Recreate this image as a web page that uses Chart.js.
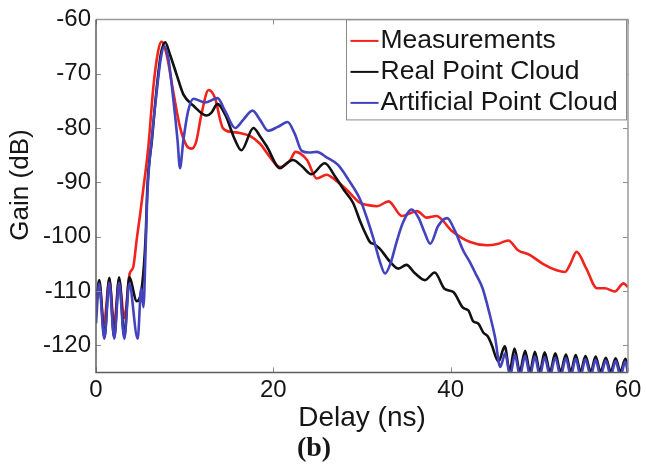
<!DOCTYPE html>
<html>
<head>
<meta charset="utf-8">
<title>Delay profile</title>
<script src="https://cdn.jsdelivr.net/npm/chart.js@4.4.1/dist/chart.umd.min.js"></script>
<style>
  html, body { margin: 0; padding: 0; background: #fff; }
  #wrap { width: 646px; height: 473px; }
</style>
</head>
<body>
<div id="wrap"><canvas id="chart" width="646" height="473"></canvas></div>
<script>
// ---- data: delay (ns) / gain (dB) ----

const measDelay = [0, 0.35, 0.9, 1.5, 2.05, 2.6, 3.2, 3.8, 4.2, 4.6, 4.96, 5.33, 5.9, 6.46, 7.0, 7.4, 7.97, 8.7, 9.47,
  10.2, 10.8, 11.3, 11.9, 12.7, 13.4, 14.3, 15.2, 16.2, 17.4, 18.5, 19.6, 20.75, 21.9, 22.5, 23.8, 24.9, 26.0,
  27.0, 28.3, 29.8, 30.7, 31.7, 33.0, 34.5, 35.3, 36.2, 37.3, 38.4, 40.1, 42.2, 44.1, 45.4, 46.5, 47.6, 48.95,
  50.4, 51.96, 52.9, 53.5, 54.2, 55.3, 56.5, 57.4, 58.5, 59.5, 60];
const measGain = [-112, -108.5, -116, -108, -116, -108, -115, -106.8, -105.6, -100.4, -96.1, -91.3, -83.5, -72.6, -65.9, -64.1, -66.5, -73.2, -79.8,
  -83.2, -83.8, -82.5, -77.4, -73.0, -74.4, -80.0, -80.7, -80.9, -81.5, -82.9, -85.3, -87.2, -85.9, -84.4, -85.9, -89.3, -88.6,
  -89.6, -91.4, -93.8, -94.2, -94.4, -93.5, -96.2, -95.8, -95.3, -96.5, -96.2, -98.9, -101.0, -101.6, -101.3, -100.7, -102.5, -103.4,
  -105.0, -106.2, -106.5, -105.0, -102.8, -105.9, -109.5, -109.5, -110.1, -108.6, -109.3];

const realDelay = [0, 0.37, 0.95, 1.5, 2.05, 2.6, 3.2, 3.75, 4.6, 5.2, 5.6, 5.8, 6.3, 6.85, 7.3, 7.8, 8.35, 9.1, 9.85,
  11.0, 12.5, 13.0, 13.7, 14.7, 15.5, 16.4, 17.75, 18.5, 19.3, 20.75, 21.5, 22.2, 23.2, 24.3, 25.8, 26.95, 28.0,
  29.0, 29.8, 30.5, 30.9, 31.4, 32.0, 33.2, 34.1, 35.0, 36.0, 37.1, 38.2, 39.3, 40.3, 41.4, 42.0, 42.55, 43.1,
  43.7, 44.2, 44.6, 45.4, 46.1, 46.65, 47.2, 47.8, 48.4, 48.95, 49.5, 50.05, 50.6, 51.2, 51.8, 52.4, 53.0, 53.55,
  54.1, 54.65, 55.2, 55.8, 56.35, 56.9, 57.5, 58.05, 58.6, 59.15, 59.7, 60];
const realGain = [-113, -108, -118.5, -107.6, -118.5, -107.5, -118.3, -107.5, -111.9, -109, -100, -90.7, -82.3, -72.6, -66.5, -64.2, -66.5, -70.2, -73.8,
  -75.9, -77.7, -77.2, -75.6, -78.0, -81.5, -84.1, -80.0, -81.5, -83.5, -87.4, -86.5, -85.9, -87.0, -88.5, -86.5, -88.9, -91.5,
  -93.8, -97.2, -99.8, -101.0, -101.4, -102.2, -104.7, -105.9, -105.2, -106.8, -108.0, -106.6, -109.6, -110.2, -113.1, -113.6, -115.6, -116.0,
  -117.7, -118.4, -119.8, -123.0, -120.2, -124.7, -120.6, -124.8, -121.0, -124.9, -121.2, -124.9, -121.3, -124.9, -121.5, -124.9, -121.7, -124.9,
  -121.8, -124.9, -122.0, -124.9, -122.1, -124.9, -122.3, -124.9, -122.4, -124.9, -122.5, -124.0];

const artDelay = [0, 0.35, 0.94, 1.5, 2.06, 2.6, 3.19, 3.75, 4.7, 5.1, 5.35, 5.6, 5.8, 6.35, 6.9, 7.3, 7.7, 8.15, 8.7,
  9.2, 9.47, 9.85, 10.4, 11.0, 12.3, 13.7, 14.6, 15.7, 16.6, 17.65, 18.5, 19.4, 20.5, 21.6, 22.4, 23.2, 24.0,
  24.9, 26.0, 27.3, 28.5, 29.8, 30.6, 31.3, 32.0, 32.6, 33.2, 33.9, 34.6, 35.6, 36.4, 37.0, 37.7, 38.6, 39.6,
  40.5, 41.4, 42.2, 42.9, 43.6, 44.4, 45.0, 45.6, 46.15, 46.7, 47.25, 47.8, 48.4, 48.95, 49.5, 50.05, 50.6, 51.2,
  51.8, 52.4, 53.0, 53.55, 54.1, 54.65, 55.2, 55.8, 56.35, 56.9, 57.5, 58.05, 58.6, 59.15, 59.7, 60];
const artGain = [-116, -108.7, -118.8, -108.5, -118.8, -108.5, -118.8, -108.7, -118.8, -109.5, -113, -102, -92, -81, -72.5, -67.3, -65.0, -67.1, -74.4,
  -82.3, -87.4, -82.3, -76.8, -74.6, -75.3, -74.5, -77.0, -80.0, -78.5, -76.8, -78.5, -80.5, -79.8, -78.9, -81.0, -84.2, -84.5,
  -84.4, -85.4, -86.8, -89.6, -93.2, -96.8, -100.4, -104.5, -106.8, -105.0, -101.0, -97.5, -95.0, -96.6, -99.0, -101.3, -98.0, -96.6,
  -99.0, -102.5, -104.8, -107.1, -109.5, -114.3, -118.5, -124.0, -121.5, -125.6, -121.8, -125.6, -122.0, -125.6, -122.1, -125.6, -122.2, -125.6,
  -122.3, -125.6, -122.4, -125.6, -122.5, -125.6, -122.6, -125.6, -122.7, -125.6, -122.8, -125.6, -122.9, -125.6, -123.0, -125.3];

const xTicks = [0, 20, 40, 60];
const yTicks = [-120, -110, -100, -90, -80, -70, -60];

const seriesNames = ['Measurements', 'Real Point Cloud', 'Artificial Point Cloud'];
const yLabel = 'Gain (dB)';

// ---- helpers ----

function pairs(xs, ys) {
  return xs.map((x, i) => ({ x: x, y: ys[i] }));
}

const FONT = '"Liberation Sans", Arial, Helvetica, sans-serif';
const INK = '#161616';

// box around the axes + small inward tick marks (matlab style)
const framePlugin = {
  id: 'frame',
  afterDatasetsDraw(chart) {
    const { ctx, chartArea: a, scales } = chart;
    ctx.save();
    ctx.strokeStyle = '#8c8c8c';
    ctx.lineWidth = 1;
    ctx.beginPath();
    xTicks.forEach(v => {
      const px = Math.round(scales.x.getPixelForValue(v)) + 0.5;
      ctx.moveTo(px, a.bottom); ctx.lineTo(px, a.bottom - 5);
      ctx.moveTo(px, a.top); ctx.lineTo(px, a.top + 5);
    });
    yTicks.forEach(v => {
      const py = Math.round(scales.y.getPixelForValue(v)) + 0.5;
      ctx.moveTo(a.left, py); ctx.lineTo(a.left + 5, py);
      ctx.moveTo(a.right, py); ctx.lineTo(a.right - 5, py);
    });
    ctx.stroke();
    ctx.lineWidth = 1.5;
    // top / right a bit lighter than left / bottom
    ctx.strokeStyle = '#9a9a9a';
    ctx.beginPath();
    ctx.moveTo(a.left, a.top); ctx.lineTo(a.right, a.top); ctx.lineTo(a.right, a.bottom);
    ctx.stroke();
    ctx.strokeStyle = '#5e5e5e';
    ctx.beginPath();
    ctx.moveTo(a.left, a.top); ctx.lineTo(a.left, a.bottom); ctx.lineTo(a.right, a.bottom);
    ctx.stroke();
    ctx.restore();
  }
};

// y label drawn by hand so it can sit a little above the axis middle
const yTitlePlugin = {
  id: 'yTitle',
  afterDraw(chart) {
    const { ctx } = chart;
    ctx.save();
    ctx.translate(21, 185);
    ctx.rotate(-Math.PI / 2);
    ctx.font = '26px ' + FONT;
    ctx.fillStyle = INK;
    ctx.textAlign = 'center';
    ctx.textBaseline = 'middle';
    ctx.fillText(yLabel, 0, 0);
    ctx.restore();
  }
};

// legend in a framed box, top right corner of the plot
const boxLegend = {
  id: 'boxLegend',
  afterDraw(chart) {
    const { ctx, chartArea: a } = chart;
    const w = 280, h = 100;
    const left = a.right - w - 2 + 0.5, top = a.top + 0.5;
    ctx.save();
    ctx.fillStyle = '#fff';
    ctx.fillRect(left, top, w, h);
    ctx.strokeStyle = '#8a8a8a';
    ctx.lineWidth = 1;
    ctx.strokeRect(left, top, w, h);
    ctx.font = '26.5px ' + FONT;
    ctx.textBaseline = 'middle';
    chart.data.datasets.forEach((ds, i) => {
      const yy = top + 21 + i * 31;
      ctx.strokeStyle = ds.borderColor;
      ctx.lineWidth = 2;
      ctx.beginPath();
      ctx.moveTo(left + 4, yy);
      ctx.lineTo(left + 32, yy);
      ctx.stroke();
      ctx.fillStyle = INK;
      ctx.fillText(ds.label, left + 34, yy);
    });
    ctx.restore();
  }
};

new Chart(document.getElementById('chart'), {
  type: 'line',
  data: {
    datasets: [
      { label: seriesNames[0], data: pairs(measDelay, measGain), borderColor: '#f2231c', order: 2 },
      { label: seriesNames[1], data: pairs(realDelay, realGain), borderColor: '#111111', order: 1 },
      { label: seriesNames[2], data: pairs(artDelay, artGain), borderColor: '#4343bd', order: 0 }
    ]
  },
  options: {
    responsive: false,
    animation: false,
    events: [],
    elements: {
      point: { radius: 0 },
      line: { borderWidth: 2.6, cubicInterpolationMode: 'monotone', fill: false }
    },
    layout: { padding: { left: 0, top: 14, right: 18, bottom: 0 } },
    plugins: {
      legend: { display: false },
      tooltip: { enabled: false },
      title: {
        display: true,
        position: 'bottom',
        text: '(b)',
        color: INK,
        font: { family: '"Liberation Serif", "Times New Roman", serif', size: 28, weight: 'bold' },
        padding: { top: 0, bottom: 7 }
      }
    },
    scales: {
      x: {
        type: 'linear',
        min: 0,
        max: 60,
        afterBuildTicks: s => { s.ticks = xTicks.map(v => ({ value: v })); },
        afterFit: s => { s.height = 60; },
        grid: { display: false, drawTicks: false },
        border: { display: false },
        ticks: { color: INK, font: { family: FONT, size: 24 }, padding: 4, maxRotation: 0 },
        title: {
          display: true,
          text: 'Delay (ns)',
          color: INK,
          font: { family: FONT, size: 28, lineHeight: 1.0 },
          padding: { top: 0, bottom: 0 }
        }
      },
      y: {
        type: 'linear',
        min: -125,
        max: -60,
        afterBuildTicks: s => { s.ticks = yTicks.map(v => ({ value: v })); },
        afterFit: s => { s.width = 96; },
        grid: { display: false, drawTicks: false },
        border: { display: false },
        ticks: { color: INK, font: { family: FONT, size: 24 }, padding: 5 },
        title: { display: false }
      }
    }
  },
  plugins: [framePlugin, boxLegend, yTitlePlugin]
});
</script>
</body>
</html>
